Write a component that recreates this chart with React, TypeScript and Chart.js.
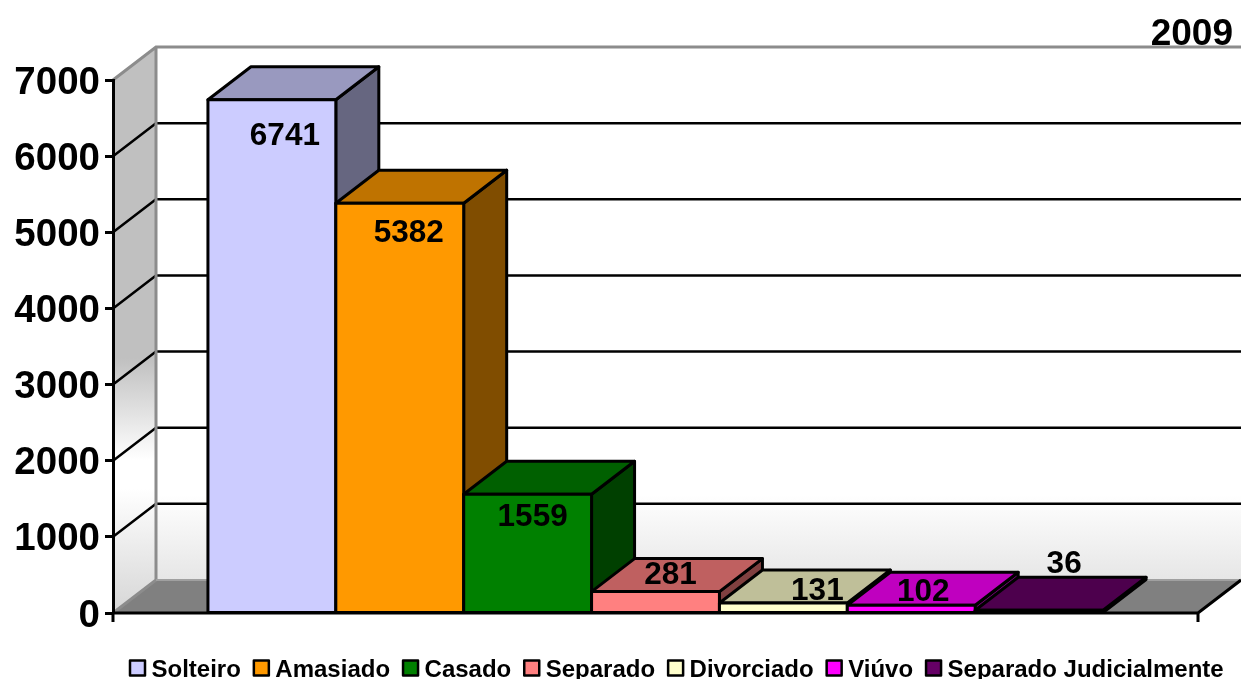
import React, { useEffect, useRef } from "react";
import { Chart, registerables } from "chart.js";

Chart.register(...registerables);

const categories = ["2009"];
const seriesNames = ["Solteiro", "Amasiado", "Casado", "Separado", "Divorciado", "Viúvo", "Separado Judicialmente"];
const seriesValues = [6741, 5382, 1559, 281, 131, 102, 36];
const frontColors = ["#CCCCFF", "#FF9900", "#008000", "#FF8080", "#FFFFCC", "#FF00FF", "#660066"];
const topColors = ["#9999BF", "#BF7300", "#006000", "#BF6060", "#BFBF99", "#BF00BF", "#4D004D"];
const sideColors = ["#666680", "#804D00", "#004000", "#804040", "#808066", "#800080", "#330033"];
const labelDx = [13, 9, 5, 15, 34, 12, 25];
const labelDy = [35, 28, 21, -18, -14, -15, -48];

const DX = 43;
const DY = 33;
const FONT = "'Liberation Sans', Arial, sans-serif";

const scene3d = {
  id: "scene3d",
  beforeDraw(chart: any) {
    const { ctx, chartArea: a, width } = chart;
    const y = chart.scales.y;
    const top = y.getPixelForValue(7000);
    const base = y.getPixelForValue(0);
    ctx.save();
    // back wall
    const back = ctx.createLinearGradient(0, top - DY, 0, base - DY);
    back.addColorStop(0, "#FFFFFF");
    back.addColorStop(0.84, "#FFFFFF");
    back.addColorStop(1, "#E6E6E6");
    ctx.fillStyle = back;
    ctx.fillRect(a.left + DX, top - DY, width - a.left - DX, base - top);
    // left wall
    const left = ctx.createLinearGradient(0, top - DY, 0, base);
    left.addColorStop(0, "#C0C0C0");
    left.addColorStop(0.55, "#C0C0C0");
    left.addColorStop(0.73, "#FFFFFF");
    left.addColorStop(0.78, "#FFFFFF");
    left.addColorStop(1, "#D6D6D6");
    ctx.fillStyle = left;
    ctx.beginPath();
    ctx.moveTo(a.left, top);
    ctx.lineTo(a.left + DX, top - DY);
    ctx.lineTo(a.left + DX, base - DY);
    ctx.lineTo(a.left, base);
    ctx.closePath();
    ctx.fill();
    // floor
    ctx.fillStyle = "#808080";
    ctx.beginPath();
    ctx.moveTo(a.left, base);
    ctx.lineTo(a.left + DX, base - DY);
    ctx.lineTo(a.right + DX, base - DY);
    ctx.lineTo(a.right, base);
    ctx.closePath();
    ctx.fill();
    // grid lines
    ctx.strokeStyle = "#000";
    ctx.lineWidth = 2.5;
    for (const t of y.ticks) {
      if (t.value === 0 || t.value === 7000) continue;
      const p = y.getPixelForValue(t.value);
      ctx.beginPath();
      ctx.moveTo(a.left, p);
      ctx.lineTo(a.left + DX, p - DY);
      ctx.lineTo(width, p - DY);
      ctx.stroke();
    }
    // wall edges
    ctx.strokeStyle = "#8C8C8C";
    ctx.lineWidth = 3;
    ctx.beginPath();
    ctx.moveTo(a.left, top);
    ctx.lineTo(a.left + DX, top - DY);
    ctx.lineTo(width, top - DY);
    ctx.moveTo(a.left + DX, top - DY);
    ctx.lineTo(a.left + DX, base - DY);
    ctx.lineTo(a.left, base);
    ctx.stroke();
    ctx.strokeStyle = "#A0A0A0";
    ctx.lineWidth = 2;
    ctx.beginPath();
    ctx.moveTo(a.left + DX, base - DY);
    ctx.lineTo(width, base - DY);
    ctx.stroke();
    ctx.restore();
  },
  afterDatasetsDraw(chart: any) {
    const { ctx, chartArea: a } = chart;
    const y = chart.scales.y;
    const base = y.getPixelForValue(0);
    ctx.save();
    // floor edge on the right and x axis
    ctx.strokeStyle = "#000";
    ctx.lineWidth = 3;
    ctx.beginPath();
    ctx.moveTo(a.right + DX, base - DY);
    ctx.lineTo(a.right, base);
    ctx.lineTo(a.left, base);
    ctx.moveTo(a.left, base);
    ctx.lineTo(a.left, base + 9);
    ctx.moveTo(a.right, base);
    ctx.lineTo(a.right, base + 9);
    ctx.stroke();

    // bars, left to right
    ctx.lineJoin = "round";
    ctx.lineWidth = 3;
    ctx.strokeStyle = "#000";
    seriesValues.forEach((_, i) => {
      const bar = chart.getDatasetMeta(i).data[0];
      const { x, y: ty, width: w, base: by } = bar.getProps(["x", "y", "width", "base"], true);
      const l = x - w / 2;
      const r = x + w / 2;
      ctx.fillStyle = sideColors[i];
      ctx.beginPath();
      ctx.moveTo(r, ty);
      ctx.lineTo(r + DX, ty - DY);
      ctx.lineTo(r + DX, by - DY);
      ctx.lineTo(r, by);
      ctx.closePath();
      ctx.fill();
      ctx.stroke();
      ctx.fillStyle = topColors[i];
      ctx.beginPath();
      ctx.moveTo(l, ty);
      ctx.lineTo(l + DX, ty - DY);
      ctx.lineTo(r + DX, ty - DY);
      ctx.lineTo(r, ty);
      ctx.closePath();
      ctx.fill();
      ctx.stroke();
      bar.draw(ctx);
      ctx.strokeRect(l, ty, w, by - ty);
    });

    ctx.fillStyle = "#000";
    // y axis labels
    ctx.font = `bold 38.5px ${FONT}`;
    ctx.textAlign = "right";
    ctx.textBaseline = "middle";
    for (const t of y.ticks) {
      ctx.fillText(String(t.value), 100, y.getPixelForValue(t.value) + 3);
    }

    // value labels
    ctx.font = `bold 31.5px ${FONT}`;
    ctx.textAlign = "center";
    seriesValues.forEach((v, i) => {
      const bar = chart.getDatasetMeta(i).data[0];
      ctx.fillText(String(v), bar.x + labelDx[i], bar.y + labelDy[i] + 2);
    });

    // category caption
    ctx.font = `bold 37px ${FONT}`;
    ctx.textAlign = "right";
    ctx.fillText(categories[0], 1233, 35);

    // legend
    ctx.font = `bold 24px ${FONT}`;
    ctx.textAlign = "left";
    let lx = 129;
    const ly = 668;
    seriesNames.forEach((name, i) => {
      ctx.fillStyle = frontColors[i];
      ctx.fillRect(lx + 1, ly - 7.5, 15, 15);
      ctx.strokeStyle = "#000";
      ctx.lineWidth = 2.5;
      ctx.strokeRect(lx + 1, ly - 7.5, 15, 15);
      ctx.fillStyle = "#000";
      ctx.fillText(name, lx + 22.5, ly + 2);
      lx += 22.5 + ctx.measureText(name).width + 12;
    });
    ctx.restore();
  },
};

export default function App() {
  const ref = useRef<HTMLCanvasElement>(null);
  useEffect(() => {
    const chart = new Chart(ref.current as HTMLCanvasElement, {
      type: "bar",
      data: {
        labels: categories,
        datasets: seriesNames.map((name, i) => ({
          label: name,
          data: [seriesValues[i]],
          backgroundColor: frontColors[i],
          borderWidth: 0,
          barPercentage: 1,
          categoryPercentage: 0.825,
        })),
      },
      options: {
        animation: false,
        responsive: false,
        layout: { padding: { left: 0, right: 43, top: 80, bottom: 66 } },
        plugins: { legend: { display: false }, title: { display: false }, tooltip: { enabled: false } },
        scales: {
          x: { display: false },
          y: {
            min: 0,
            max: 7000,
            afterFit: (s: any) => {
              s.width = 113;
            },
            border: { color: "#000", width: 3 },
            grid: { drawOnChartArea: false, drawTicks: true, tickLength: 8, tickColor: "#000", tickWidth: 3 },
            ticks: { stepSize: 1000, display: false },
          },
        },
      },
      plugins: [scene3d],
    } as any);
    return () => chart.destroy();
  }, []);
  return (
    <canvas
      ref={ref}
      width={1241}
      height={679}
      style={{ position: "fixed", left: 0, top: 0, width: 1241, height: 679, display: "block", background: "#fff" }}
    />
  );
}
